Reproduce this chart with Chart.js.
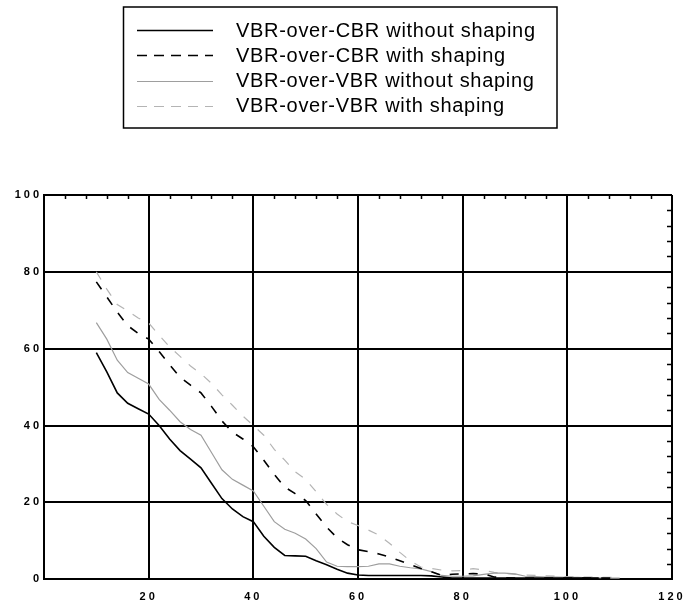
<!DOCTYPE html>
<html>
<head>
<meta charset="utf-8">
<script src="https://cdn.jsdelivr.net/npm/chart.js@4/dist/chart.umd.min.js"></script>
<style>
  html, body { margin: 0; padding: 0; background: #fff; }
  canvas { display: block; }
</style>
</head>
<body>
<canvas id="chart" width="688" height="608"></canvas>
<script>
// Sample positions along the horizontal axis
const xValues = [10,12,14,16,18,20,22,24,26,28,30,32,34,36,38,40,42,44,46,48,50,
                 52,54,56,58,60,62,64,66,68,70,72,74,76,78,80,82,84,86,88,90,
                 92,94,96,98,100,102,104,106,108,110];

const seriesLabels = [
  'VBR-over-CBR without shaping',
  'VBR-over-CBR with shaping',
  'VBR-over-VBR without shaping',
  'VBR-over-VBR with shaping'
];

const cbrNoShaping = [59,54,48.5,45.8,44.4,43,40,36.5,33.5,31.3,29,25,21,18.3,16.3,15,11.2,8.3,6.2,6.1,6,
                      4.8,3.8,2.6,1.6,1.1,1,1,1,1,1,1,0.9,0.6,0.3,0.3,0.3,0.3,0.3,0.3,0.3,
                      0.3,0.3,0.3,0.3,0.3,0.3,0.3,0.3,null,null];

const cbrShaping = [77.4,73.5,69.5,66,64,62.5,59.3,55.8,52.6,50.5,48.5,45,41.2,38.3,36.5,34.5,31,27.3,24,22.3,20.5,
                    17,13.6,10.8,9,7.7,7.2,6.6,5.8,4.8,3.8,2.8,2,1,1.3,1.4,1.5,1.4,0.6,0.4,0.3,
                    0.3,0.3,0.3,0.3,0.3,0.3,0.3,0.3,0.3,0.3];

const vbrNoShaping = [66.8,62.5,57,53.8,52.3,50.8,46.8,44,41,39,37.5,33,28.5,26,24.5,23,19,15,13,12,10.5,
                      8,4.5,3.4,3.3,3.3,3.4,4,4,3.4,3,2.7,2,1,0.8,0.8,0.9,1.3,1.6,1.6,1.4,
                      0.8,0.7,0.6,0.6,0.5,0.5,0.4,0.4,0.3,0.3];

const vbrShaping = [80,75.5,71.5,69.8,68,66.7,63.5,60.5,58,55.5,53.5,51,48,45.3,42.5,40,37.5,33.8,31,28,26,
                    22.8,19.5,17,15,14,12.8,11.5,9.4,7,4.8,3.2,2.8,2.4,2.2,2.3,2.8,2.4,1.8,1.5,1.3,
                    1.1,1,0.9,0.8,0.7,0.6,0.6,0.5,0.5,0.5];

// Axis ticks
const xTicks = [0, 20, 40, 60, 80, 100, 120];
const yTicks = [0, 20, 40, 60, 80, 100];

function toPoints(ys) {
  return xValues.map((x, i) => ({ x: x, y: ys[i] }));
}

const tickFont = { family: '"Liberation Sans", Arial, sans-serif', size: 11, weight: 'bold' };

// Wide letter spacing for the axis numbers
const tickSpacing = {
  id: 'tickSpacing',
  beforeLayout(chart) { chart.ctx.letterSpacing = '3px'; },
  beforeDraw(chart) { chart.ctx.letterSpacing = '3px'; },
  afterDatasetsDraw(chart) { chart.ctx.letterSpacing = '0px'; }
};

// Small inward ticks along the top and right frame edges
const minorTicks = {
  id: 'minorTicks',
  afterDatasetsDraw(chart) {
    const { ctx, chartArea: a, scales: { x, y } } = chart;
    ctx.save();
    ctx.strokeStyle = '#000';
    ctx.lineWidth = 1.5;
    ctx.beginPath();
    for (let v = 4; v < 120; v += 4) {
      if (v % 20 === 0) continue;
      const px = Math.round(x.getPixelForValue(v)) + 0.5;
      ctx.moveTo(px, a.top);
      ctx.lineTo(px, a.top + 4);
    }
    for (let v = 4; v < 100; v += 4) {
      if (v % 20 === 0) continue;
      const py = Math.round(y.getPixelForValue(v)) + 0.5;
      ctx.moveTo(a.right, py);
      ctx.lineTo(a.right - 5, py);
    }
    ctx.stroke();
    ctx.restore();
  }
};

// Framed legend above the plot, one entry per row
const boxedLegend = {
  id: 'boxedLegend',
  afterDraw(chart) {
    const ctx = chart.ctx;
    ctx.save();
    ctx.letterSpacing = '0.7px';
    ctx.lineWidth = 1.5;
    ctx.strokeStyle = '#000';
    ctx.strokeRect(123.5, 7, 433.5, 121);
    ctx.font = '20px "Liberation Sans", Arial, sans-serif';
    ctx.textBaseline = 'middle';
    ctx.textAlign = 'left';
    chart.data.datasets.forEach((ds, i) => {
      const rowY = 30 + i * 25.3;
      ctx.beginPath();
      ctx.strokeStyle = ds.borderColor;
      ctx.lineWidth = ds.borderWidth;
      ctx.setLineDash(ds.borderDash && ds.borderDash.length ? [10, 7] : []);
      ctx.moveTo(137, Math.round(rowY) + 0.5);
      ctx.lineTo(213, Math.round(rowY) + 0.5);
      ctx.stroke();
      ctx.setLineDash([]);
      ctx.fillStyle = '#000';
      ctx.fillText(ds.label, 236, rowY + 1);
    });
    ctx.restore();
  }
};

new Chart(document.getElementById('chart'), {
  type: 'line',
  data: {
    datasets: [
      { label: seriesLabels[0], data: toPoints(cbrNoShaping), borderColor: '#000000', borderWidth: 1.6, borderDash: [] },
      { label: seriesLabels[1], data: toPoints(cbrShaping),   borderColor: '#000000', borderWidth: 1.6, borderDash: [9, 10] },
      { label: seriesLabels[2], data: toPoints(vbrNoShaping), borderColor: '#9e9e9e', borderWidth: 1.2, borderDash: [] },
      { label: seriesLabels[3], data: toPoints(vbrShaping),   borderColor: '#b4b4b4', borderWidth: 1.2, borderDash: [9, 10] }
    ]
  },
  options: {
    responsive: false,
    animation: false,
    events: [],
    layout: { padding: { top: 195, right: 16, left: 0, bottom: 0 } },
    elements: { point: { radius: 0 }, line: { tension: 0, fill: false } },
    plugins: { legend: { display: false }, tooltip: { enabled: false } },
    scales: {
      x: {
        type: 'linear',
        min: xTicks[0],
        max: xTicks[xTicks.length - 1],
        afterBuildTicks(s) { s.ticks = xTicks.map(v => ({ value: v })); },
        ticks: {
          font: tickFont, color: '#000', padding: 11, maxRotation: 0,
          callback: v => (v === 0 ? '' : String(v))
        },
        grid: { color: '#000', lineWidth: 2, drawTicks: false },
        border: { color: '#000', width: 2 },
        afterFit(s) { s.height = 28.7; s.paddingLeft = 0; s.paddingRight = 0; }
      },
      y: {
        type: 'linear',
        min: yTicks[0],
        max: yTicks[yTicks.length - 1],
        afterBuildTicks(s) { s.ticks = yTicks.map(v => ({ value: v })); },
        ticks: { font: tickFont, color: '#000', padding: 2 },
        grid: { color: '#000', lineWidth: 2, drawTicks: false },
        border: { color: '#000', width: 2 },
        afterFit(s) { s.width = 44; s.paddingTop = 0; s.paddingBottom = 0; }
      }
    }
  },
  plugins: [tickSpacing, minorTicks, boxedLegend]
});
</script>
</body>
</html>
